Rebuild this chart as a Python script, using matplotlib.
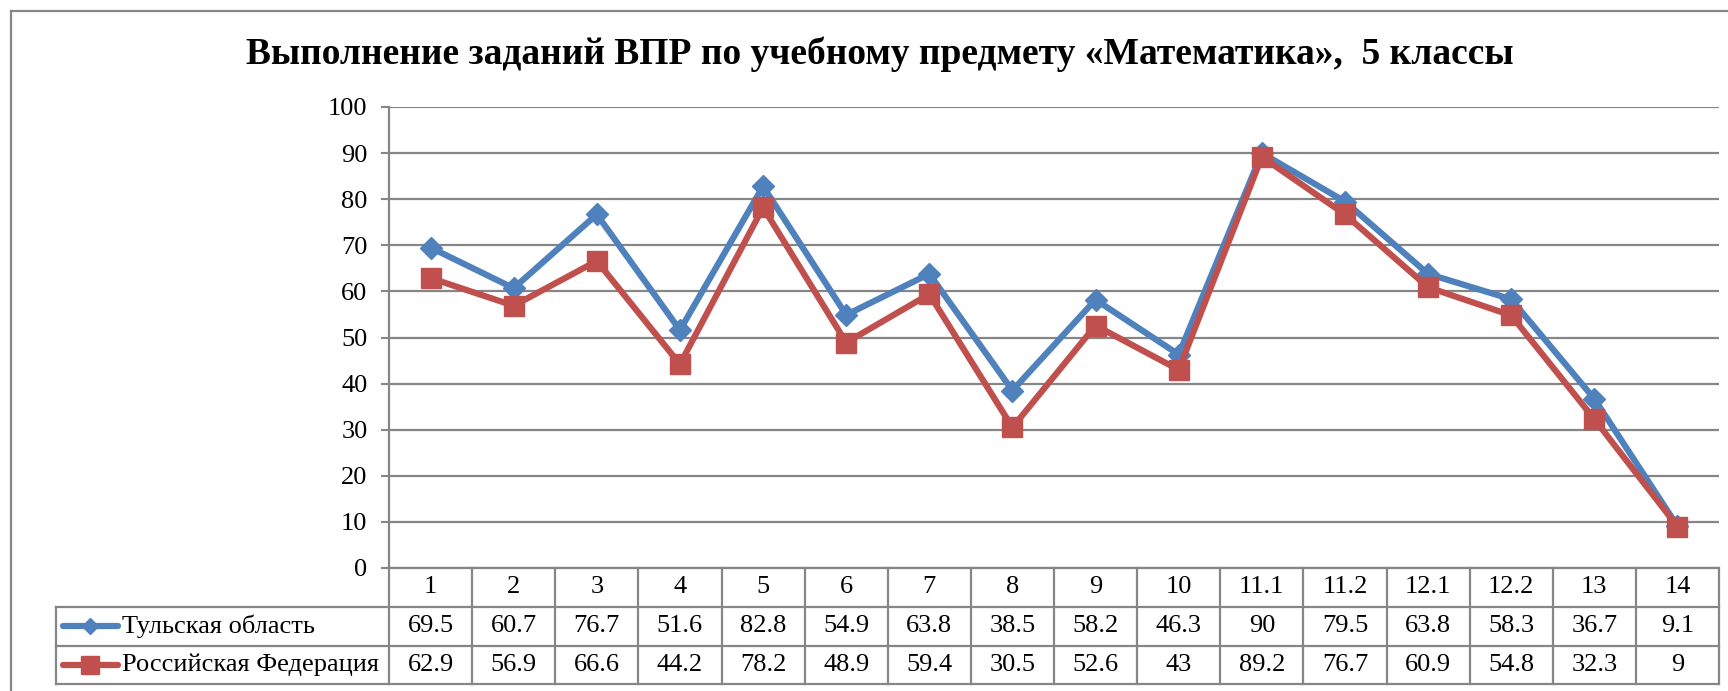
import matplotlib
matplotlib.use("Agg")
import matplotlib.pyplot as plt
from matplotlib.lines import Line2D
import matplotlib.transforms as mtransforms

tasks = ["1", "2", "3", "4", "5", "6", "7", "8", "9", "10",
         "11.1", "11.2", "12.1", "12.2", "13", "14"]
tula = [69.5, 60.7, 76.7, 51.6, 82.8, 54.9, 63.8, 38.5, 58.2, 46.3,
        90, 79.5, 63.8, 58.3, 36.7, 9.1]
russia = [62.9, 56.9, 66.6, 44.2, 78.2, 48.9, 59.4, 30.5, 52.6, 43,
          89.2, 76.7, 60.9, 54.8, 32.3, 9]
series_names = ["Тульская область", "Российская Федерация"]
yticks = [0, 10, 20, 30, 40, 50, 60, 70, 80, 90, 100]

blue = "#4F81BD"
red = "#C0504D"
grey = "#868686"
fs = 19

plt.rcParams["font.family"] = ["Liberation Serif", "DejaVu Serif"]

W, H = 1728, 691
fig = plt.figure(figsize=(W / 100, H / 100), dpi=100)
ax = fig.add_axes([389 / W, 1 - 568 / H, 1330 / W, 461 / H])

x = list(range(len(tasks)))
ax.plot(x, tula, color=blue, lw=4.5, marker="D", ms=11, zorder=3)
ax.plot(x, russia, color=red, lw=4.5, marker="s", ms=14, zorder=4)

ax.set_xlim(-0.5, len(tasks) - 0.5)
ax.set_ylim(0, 100)
ax.set_yticks(yticks)
ax.set_xticks([])
ax.tick_params(axis="y", length=5.5, width=1.5, color=grey, labelsize=fs, pad=10)
ax.grid(axis="y", color=grey, lw=1.6)
ax.set_axisbelow(True)
for s in ["top", "right"]:
    ax.spines[s].set_visible(False)
ax.spines["left"].set_color(grey)
ax.spines["left"].set_linewidth(1.6)
ax.spines["bottom"].set_color(grey)
ax.spines["bottom"].set_linewidth(1.6)

# ---- data table under the plot ----
px_h = 461.0
r1 = -(606.7 - 568) / px_h
r2 = -(645.7 - 568) / px_h
r3 = -(684 - 568) / px_h
left = -(389 - 56) / 1330.0
blend = mtransforms.blended_transform_factory(ax.transData, ax.transAxes)
lkw = dict(color=grey, lw=1.6, clip_on=False)

# vertical column lines
for i in range(len(tasks) + 1):
    ax.add_line(Line2D([i - 0.5, i - 0.5], [0, r3], transform=blend, **lkw))
# horizontal row lines
for yy in [r1, r2, r3]:
    ax.add_line(Line2D([left, 1], [yy, yy], transform=ax.transAxes, **lkw))
ax.add_line(Line2D([left, left], [r1, r3], transform=ax.transAxes, **lkw))

rows = [tula, russia]
ymid = [(0 + r1) / 2, (r1 + r2) / 2, (r2 + r3) / 2]
for i, t in enumerate(tasks):
    ax.text(i, ymid[0], t, transform=blend, ha="center", va="center", fontsize=fs)
    for k, vals in enumerate(rows):
        ax.text(i, ymid[k + 1], f"{vals[i]:g}", transform=blend,
                ha="center", va="center", fontsize=fs)

# legend keys in the first column
kx0 = left + 7 / 1330.0
kx1 = left + 62 / 1330.0
styles = [(blue, "D", 8), (red, "s", 13)]
for k, (c, m, ms) in enumerate(styles):
    yy = ymid[k + 1]
    ax.add_line(Line2D([kx0, kx1], [yy, yy], transform=ax.transAxes, color=c,
                       lw=4.5, clip_on=False, solid_capstyle="round"))
    ax.add_line(Line2D([(kx0 + kx1) / 2], [yy], transform=ax.transAxes, color=c,
                       marker=m, ms=ms, clip_on=False))
    ax.text(left + 66 / 1330.0, yy, series_names[k], transform=ax.transAxes,
            ha="left", va="center", fontsize=fs)

# title
fig.text(880 / W, 1 - 54 / H,
         "Выполнение заданий ВПР по учебному предмету «Математика»,  5 классы",
         ha="center", va="center", fontsize=27, fontweight="bold")

# chart area border (cut off at right and bottom)
fig.add_artist(Line2D([11 / W, 1], [1 - 11 / H, 1 - 11 / H],
                      transform=fig.transFigure, color=grey, lw=1.6))
fig.add_artist(Line2D([11 / W, 11 / W], [0, 1 - 11 / H],
                      transform=fig.transFigure, color=grey, lw=1.6))

fig.savefig("out.png", dpi=100)
